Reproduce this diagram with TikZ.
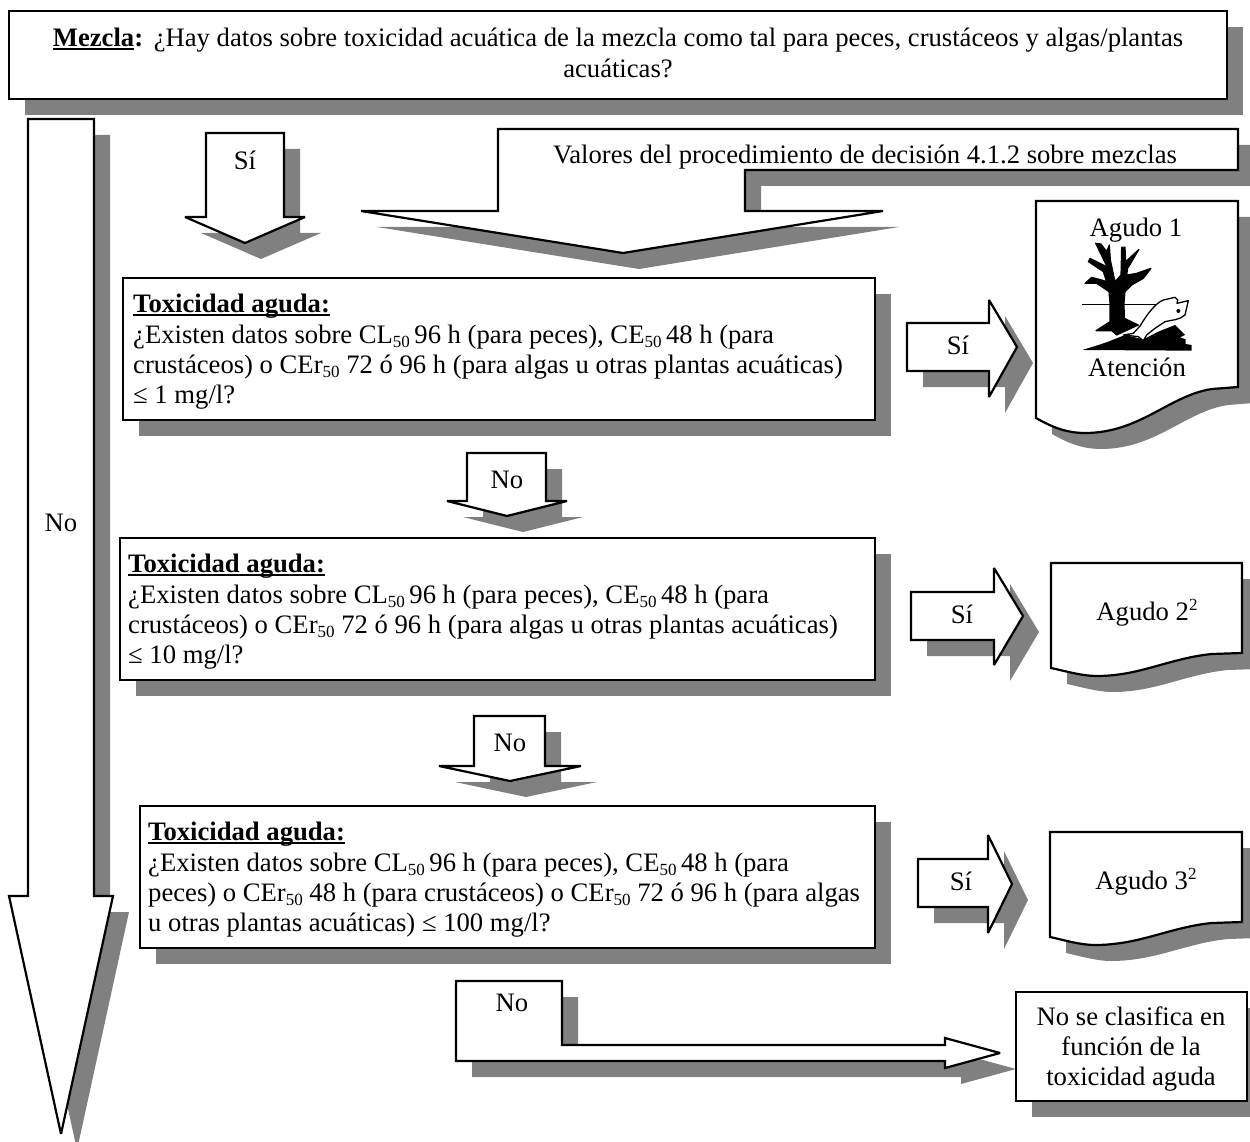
\documentclass[tikz,border=0pt]{standalone}
\usepackage{fontspec}
\setmainfont{Liberation Serif}
\newcommand\ulb[1]{\setbox0\hbox{\bfseries #1}\leavevmode\rlap{\rule[-3.5pt]{\wd0}{2pt}}\box0}
\newcommand\sbs[1]{\raisebox{-4pt}{\fontsize{17}{17}\selectfont #1}}
\newcommand\sps[1]{\raisebox{10pt}{\fontsize{17}{17}\selectfont #1}}
\newcommand\blk[1]{\fill[shadowfill,shift={(16,16)}] #1; \draw[blockline] #1;}
\tikzset{
  shadowfill/.style={fill={rgb,255:red,128;green,128;blue,128}},
  blockline/.style={draw=black,fill=white,line width=2.2pt,line join=miter,miter limit=3},
  lbl/.style={inner sep=0pt,font=\fontsize{26.65}{30.4}\selectfont,text=black},
  para/.style={lbl,align=left,anchor=north west},
  ctr/.style={lbl,align=center}
}
\begin{document}
\begin{tikzpicture}[x=1pt,y=-1pt]
\useasboundingbox (0,0) rectangle (1250,1142);
\clip (0,0) rectangle (1250,1142);
% title
\blk{(9,11) rectangle (1227,99)}
\node[ctr] (mezcla) at (618,53) {\ulb{Mezcla}\textbf{:}\hspace{0.4em}¿Hay datos sobre toxicidad acuática de la mezcla como tal para peces, crustáceos y algas/plantas\\acuáticas?};
% big No arrow
\blk{(28,119) -- (94,119) -- (94,896) -- (113,896) -- (61,1134) -- (9,896) -- (28,896) -- cycle}
\node[lbl] (no0) at (61,523) {No};
% Si top
\blk{(206,133) -- (284,133) -- (284,217) -- (305,217) -- (245,243) -- (185,217) -- (206,217) -- cycle}
\node[lbl] (si0) at (245,160) {Sí};
% Valores arrow
\blk{(498,129) -- (1238,129) -- (1238,170) -- (745,170) -- (745,211) -- (883,211) -- (623,253) -- (361,211) -- (498,211) -- cycle}
\node[lbl] (valores) at (865,157) {Valores del procedimiento de decisión 4.1.2 sobre mezclas};
% box 1
\blk{(123,278) rectangle (875,420)}
\node[para] (tox1) at (133,294) {\ulb{Toxicidad aguda:}\\¿Existen datos sobre CL\sbs{50}\,96 h (para peces), CE\sbs{50}\,48 h (para\\crustáceos) o CEr\sbs{50} 72 ó 96 h (para algas u otras plantas acuáticas)\\≤ 1 mg/l?};
% Si 1
\blk{(907,323) -- (989,323) -- (989,300) -- (1017,347) -- (989,397) -- (989,371) -- (907,371) -- cycle}
\node[lbl] (si1) at (958,345) {Sí};
% Agudo 1
\blk{(1036,201) -- (1238,201) -- (1238,387) -- (1212,389) .. controls (1170,395) and (1140,433) .. (1085,433) .. controls (1065,433) and (1050,426) .. (1036,418) -- cycle}
\node[lbl] (ag1) at (1136,230) {Agudo 1};
\node[lbl] (at1) at (1137,367) {Atención};
\begin{scope}[shift={(1075,240)},x=0.3333pt,y=-0.3333pt]
\filldraw[black,line width=1.2pt,line join=round] (62,10) -- (78,12) -- (95,35) -- (103,15) -- (106,60) -- (120,125) -- (138,105) -- (140,22) -- (150,22) -- (152,65) -- (192,28) -- (158,85) -- (155,105) -- (185,100) -- (228,85) -- (205,115) -- (170,135) -- (150,155) -- (147,190) -- (148,235) -- (190,255) -- (125,285) -- (110,272) -- (63,272) -- (105,245) -- (105,190) -- (102,155) -- (65,130) -- (30,130) -- (50,112) -- (80,120) -- (95,125) -- (85,95) -- (40,65) -- (45,55) -- (85,75) -- (97,82) -- cycle;
\draw[black,line width=0.8pt] (22,192) -- (255,192);
\fill[black] (22,330) -- (70,315) -- (100,305) -- (150,285) -- (205,298) -- (250,275) -- (300,255) -- (330,285) -- (315,292) -- (332,298) -- (332,312) -- (350,315) -- (350,332) -- cycle;
\draw[black,fill=white,line width=1.3pt,line join=round] (145,285) -- (175,280) -- (195,258) .. controls (215,225) and (240,190) .. (265,180) -- (300,172) -- (308,180) -- (306,190) -- (340,182) -- (330,225) .. controls (315,240) and (290,240) .. (270,245) -- (240,265) -- (215,285) -- (205,302) -- (190,290) -- cycle;
\fill[black] (310,213) circle (6);
\end{scope}
% No 1
\blk{(467,453) -- (546,453) -- (546,501) -- (567,501) -- (507,516) -- (447,501) -- (467,501) -- cycle}
\node[lbl] (no1) at (507,480) {No};
% box 2
\blk{(120,538) rectangle (875,680)}
\node[para] (tox2) at (128,554) {\ulb{Toxicidad aguda:}\\¿Existen datos sobre CL\sbs{50}\,96 h (para peces), CE\sbs{50}\,48 h (para\\crustáceos) o CEr\sbs{50} 72 ó 96 h (para algas u otras plantas acuáticas)\\≤ 10 mg/l?};
% Si 2
\blk{(911,592) -- (994,592) -- (994,568) -- (1023,616) -- (994,665) -- (994,640) -- (911,640) -- cycle}
\node[lbl] (si2) at (962,614) {Sí};
% Agudo 2
\blk{(1051,563) -- (1242,563) -- (1242,653) -- (1212,654) .. controls (1170,658) and (1140,676) .. (1097,676) .. controls (1082,676) and (1065,671) .. (1051,668) -- cycle}
\node[lbl] (ag2) at (1147,613) {Agudo 2\sps{2}};
% No 2
\blk{(474,716) -- (545,716) -- (545,766) -- (581,766) -- (510,781) -- (439,766) -- (474,766) -- cycle}
\node[lbl] (no2) at (510,743) {No};
% box 3
\blk{(140,806) rectangle (875,948)}
\node[para] (tox3) at (148,822) {\ulb{Toxicidad aguda:}\\¿Existen datos sobre CL\sbs{50}\,96 h (para peces), CE\sbs{50}\,48 h (para\\peces) o CEr\sbs{50} 48 h (para crustáceos) o CEr\sbs{50} 72 ó 96 h (para algas\\u otras plantas acuáticas) ≤ 100 mg/l?};
% Si 3
\blk{(918,859) -- (988,859) -- (988,835) -- (1012,884) -- (988,933) -- (988,907) -- (918,907) -- cycle}
\node[lbl] (si3) at (961,881) {Sí};
% Agudo 3
\blk{(1050,832) -- (1242,832) -- (1242,922) -- (1212,923) .. controls (1170,927) and (1140,945) .. (1095,945) .. controls (1080,945) and (1064,940) .. (1050,937) -- cycle}
\node[lbl] (ag3) at (1146,882) {Agudo 3\sps{2}};
% No L
\blk{(456,981) -- (562,981) -- (562,1045) -- (945,1045) -- (945,1038) -- (1000,1053) -- (945,1068) -- (945,1061) -- (456,1061) -- cycle}
\node[lbl] (no3) at (512,1003) {No};
% No clasifica
\blk{(1016,992) rectangle (1247,1101)}
\node[ctr] (ncl) at (1131,1049) {No se clasifica en\\función de la\\toxicidad aguda};
\end{tikzpicture}
\end{document}
